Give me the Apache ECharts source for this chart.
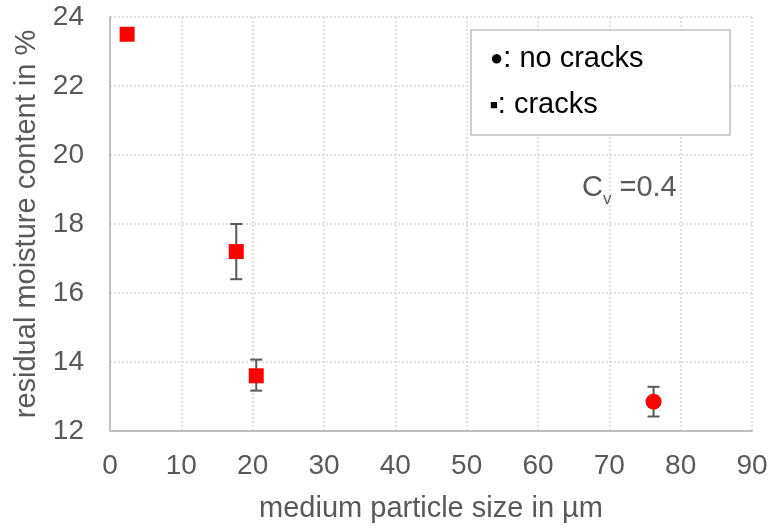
<!DOCTYPE html>
<html><head><meta charset="utf-8">
<script src="https://cdn.jsdelivr.net/npm/echarts@6/dist/echarts.min.js"></script>
<style>html,body{margin:0;padding:0;background:#fff}#c{width:777px;height:528px}</style>
</head><body><div id="c"></div>
<script>
// data
const crackX = [2.4, 17.7, 20.5];
const crackY = [23.5, 17.2, 13.6];
const crackLow = [null, 16.4, 13.17];
const crackHigh = [null, 18.0, 14.07];
const noCrackX = [76.2];
const noCrackY = [12.85];
const noCrackLow = [12.42];
const noCrackHigh = [13.28];
const xTicks = { min: 0, max: 90, interval: 10 };
const yTicks = { min: 12, max: 24, interval: 2 };

const errData = [];
crackX.forEach((x, i) => { if (crackLow[i] != null) errData.push([x, crackLow[i], crackHigh[i]]); });
noCrackX.forEach((x, i) => errData.push([x, noCrackLow[i], noCrackHigh[i]]));

const font = 'Liberation Sans, Arial, sans-serif';
const chart = echarts.init(document.getElementById('c'), null, { renderer: 'canvas' });
chart.setOption({
  animation: false,
  grid: { left: 110, right: 25, top: 17, bottom: 93, containLabel: false },
  xAxis: {
    type: 'value', min: xTicks.min, max: xTicks.max, interval: xTicks.interval,
    name: 'medium particle size in µm', nameLocation: 'middle', nameGap: 63,
    nameTextStyle: { fontSize: 29, color: '#595959', fontFamily: font },
    axisLine: { show: true, lineStyle: { color: '#bfbfbf', width: 2 } },
    axisTick: { show: false },
    axisLabel: { fontSize: 28, color: '#595959', fontFamily: font, margin: 21 },
    splitLine: { show: true, lineStyle: { color: '#d9d9d9', type: [2, 2], width: 1.5 } }
  },
  yAxis: {
    type: 'value', min: yTicks.min, max: yTicks.max, interval: yTicks.interval,
    name: 'residual moisture content in %', nameLocation: 'middle', nameGap: 66,
    nameTextStyle: { fontSize: 29, color: '#595959', fontFamily: font },
    axisLine: { show: true, lineStyle: { color: '#bfbfbf', width: 2 } },
    axisTick: { show: false },
    axisLabel: { fontSize: 28, color: '#595959', fontFamily: font, margin: 26 },
    splitLine: { show: true, lineStyle: { color: '#d9d9d9', type: [2, 2], width: 1.5 } }
  },
  series: [
    {
      type: 'custom', name: 'err', z: 3,
      renderItem: function (params, api) {
        const x = api.value(0);
        const lo = api.coord([x, api.value(1)]);
        const hi = api.coord([x, api.value(2)]);
        const w = 6;
        const style = { stroke: '#595959', lineWidth: 2 };
        return { type: 'group', children: [
          { type: 'line', shape: { x1: lo[0], y1: lo[1], x2: hi[0], y2: hi[1] }, style },
          { type: 'line', shape: { x1: lo[0] - w, y1: lo[1], x2: lo[0] + w, y2: lo[1] }, style },
          { type: 'line', shape: { x1: hi[0] - w, y1: hi[1], x2: hi[0] + w, y2: hi[1] }, style }
        ]};
      },
      data: errData
    },
    {
      type: 'scatter', name: 'cracks', symbol: 'rect', symbolSize: 15, z: 5,
      itemStyle: { color: '#ff0000', opacity: 1 },
      data: crackX.map((x, i) => [x, crackY[i]])
    },
    {
      type: 'scatter', name: 'no cracks', symbol: 'circle', symbolSize: 16, z: 5,
      itemStyle: { color: '#ff0000', opacity: 1 },
      data: noCrackX.map((x, i) => [x, noCrackY[i]])
    }
  ],
  graphic: [
    { type: 'rect', shape: { x: 471, y: 30, width: 259, height: 105 },
      style: { fill: '#fff', stroke: '#bfbfbf', lineWidth: 1.5 }, z: 10 },
    { type: 'text', x: 490, y: 59, z: 11,
      style: { text: '{d|●}{t|: no cracks}', fill: '#000', fontFamily: font, verticalAlign: 'middle',
        rich: { d: { fontSize: 22, lineHeight: 29, fill: '#000', fontFamily: font, verticalAlign: 'middle' },
                t: { fontSize: 29, lineHeight: 29, fill: '#000', fontFamily: font, verticalAlign: 'middle' } } } },
    { type: 'text', x: 490, y: 105, z: 11,
      style: { text: '{d|■}{t|: cracks}', fill: '#000', fontFamily: font, verticalAlign: 'middle',
        rich: { d: { fontSize: 13, lineHeight: 29, fill: '#000', fontFamily: font, verticalAlign: 'middle' },
                t: { fontSize: 29, lineHeight: 29, fill: '#000', fontFamily: font, verticalAlign: 'middle' } } } },
    { type: 'text', x: 582, y: 188, z: 11,
      style: { text: '{a|C}{b|v}{a| =0.4}', fill: '#595959', fontFamily: font, verticalAlign: 'middle',
        rich: { a: { fontSize: 29, fill: '#595959', fontFamily: font, verticalAlign: 'bottom' },
                b: { fontSize: 17, fill: '#595959', fontFamily: font, verticalAlign: 'bottom', padding: [0, 0, -5, 0] } } } }
  ]
});
</script></body></html>
